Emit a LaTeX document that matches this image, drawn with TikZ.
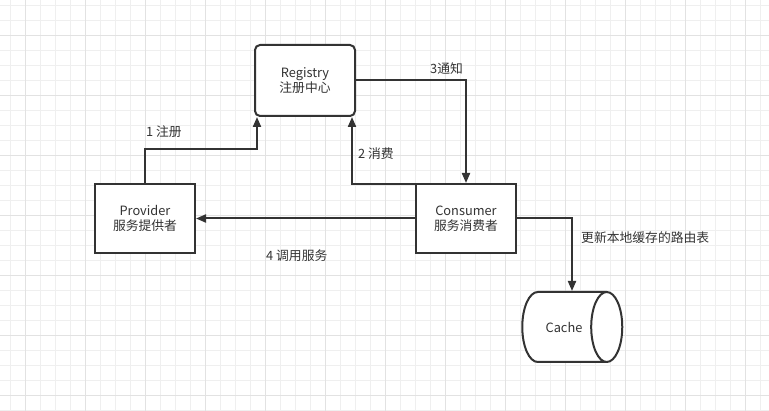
\documentclass[tikz,border=0pt]{standalone}
\usepackage{fontspec}
\setmainfont{Noto Sans CJK SC}
\usetikzlibrary{arrows.meta,shapes.geometric}
\definecolor{ink}{HTML}{333333}
\definecolor{gridminor}{HTML}{EFEFEF}
\definecolor{gridmajor}{HTML}{E2E2E2}
\tikzset{
	box/.style={draw=ink, line width=2pt, fill=white, minimum width=100pt, minimum height=69pt, align=center, text=ink, inner sep=0pt},
	flow/.style={draw=ink, line width=2pt, -{Triangle[length=10pt,width=8pt]}},
	lbl/.style={text=ink, inner sep=0pt, anchor=west}
}
\begin{document}
\begin{tikzpicture}[x=1pt, y=-1pt, font=\fontsize{12.8}{15.5}\selectfont]
	% le fond
	\useasboundingbox (0,0) rectangle (769,411);
	\fill[white] (0,0) rectangle (769,411);
	\foreach \x in {10,25,...,769} \draw[gridminor, line width=1pt] (\x,0) -- (\x,411);
	\foreach \y in {6,21,...,411} \draw[gridminor, line width=1pt] (0,\y) -- (769,\y);
	\foreach \x in {25,85,...,769} \draw[gridmajor, line width=1pt] (\x,0) -- (\x,411);
	\foreach \y in {36,96,...,411} \draw[gridmajor, line width=1pt] (0,\y) -- (769,\y);
	% les boites
	\node[box, rounded corners=5pt, minimum height=71pt] (reg) at (305,80.5) {Registry\\注册中心};
	\node[box] (prov) at (145,218.5) {Provider\\服务提供者};
	\node[box] (cons) at (466,218.5) {Consumer\\服务消费者};
	\node[box, cylinder, shape aspect=3, minimum width=70pt, minimum height=100pt] (cache) at (564,327) {Cache};
	% les fleches
	\draw[flow] (prov.north) -- ++(0,-34) -| ([xshift=3pt]reg.south west);
	\draw[flow] ([yshift=-1pt]cons.north west) -| ([xshift=-4pt]reg.south east);
	\draw[flow] (reg.east) -| (cons.north);
	\draw[flow] (cons.west) -- (prov.east);
	\draw[flow] (cons.east) -| ([xshift=8pt]cache.north);
	% les textes
	\node[lbl] (l1) at (146,132) {1 注册};
	\node[lbl] (l2) at (358,154) {2 消费};
	\node[lbl] (l3) at (430,69) {3通知};
	\node[lbl] (l4) at (266,256) {4 调用服务};
	\node[lbl] (l5) at (581,238) {更新本地缓存的路由表};
\end{tikzpicture}
\end{document}
